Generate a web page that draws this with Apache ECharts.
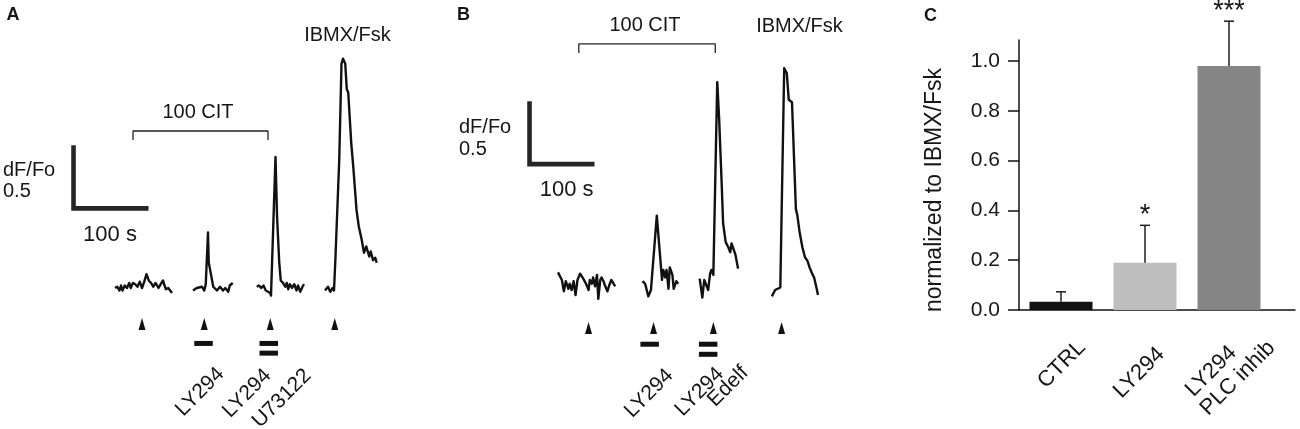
<!DOCTYPE html>
<html>
<head>
<meta charset="utf-8">
<script src="https://cdn.jsdelivr.net/npm/echarts@6/dist/echarts.min.js"></script>
<style>html,body{margin:0;padding:0;background:#fff}#c{width:1300px;height:429px}</style>
</head>
<body>
<div id="c"></div>
<script>
// ===================== DATA =====================
// Panel A traces: [time (s), dF/Fo]
const traceA1 = [[0,0.00],[3,0.01],[6,-0.02],[8,0.02],[10,-0.02],[13,0.02],[16,0.00],[19,0.04],[21,0.00],[24,0.04],[27,0.03],[30,0.01],[33,0.05],[36,0.00],[39,0.05],[42,0.11],[45,0.06],[48,0.04],[51,0.01],[54,0.04],[58,0.00],[60,0.02],[64,0.06],[66,0.02],[68,-0.01],[71,0.00],[76,-0.04]];
const traceA2 = [[104,-0.02],[109,0.00],[116,0.01],[119,-0.02],[121,0.03],[124,0.44],[125,0.20],[127,0.14],[129,0.13],[131,0.01],[133,0.02],[136,-0.02],[140,0.01],[144,-0.02],[147,0.00],[151,-0.03],[153,0.02],[157,0.04]];
const traceA3 = [[189,0.01],[192,0.02],[195,0.00],[198,0.02],[201,-0.02],[203,-0.01],[207,-0.04],[208,-0.06],[214,1.04],[216,0.58],[219,0.20],[221,0.06],[224,0.04],[227,0.01],[229,0.04],[231,-0.01],[233,0.03],[236,0.00],[239,0.03],[242,-0.02],[244,0.02],[247,-0.03],[250,0.01],[252,0.03]];
const traceA4 = [[280,-0.02],[284,0.01],[287,-0.03],[290,0.00],[292,-0.02],[294,0.25],[295,0.26],[299,1.02],[302,1.78],[304,1.82],[307,1.78],[309,1.58],[311,1.55],[315,1.15],[318,0.94],[322,0.62],[325,0.49],[329,0.38],[332,0.28],[335,0.33],[339,0.25],[341,0.29],[344,0.22],[347,0.24],[349,0.20]];
// Panel B traces: [time (s), dF/Fo]
const traceB1 = [[0,0.10],[3,0.11],[6,0.04],[9,-0.05],[12,0.03],[16,-0.03],[18,0.01],[21,-0.04],[24,0.03],[27,-0.08],[30,0.04],[34,0.09],[37,0.08],[40,0.04],[44,0.00],[47,-0.04],[49,0.04],[52,0.01],[54,0.06],[57,-0.01],[60,0.08],[62,-0.11],[65,0.04],[67,0.06],[70,0.03],[72,0.00],[76,-0.05],[79,0.00],[82,0.04],[84,0.03],[88,-0.01]];
const traceB2 = [[130,0.03],[134,0.01],[139,-0.09],[143,-0.04],[146,-0.03],[152,0.55],[155,0.36],[160,0.04],[162,0.12],[165,0.06],[167,0.12],[170,-0.03],[172,0.14],[176,0.08],[178,-0.03],[182,0.03],[185,0.01]];
const traceB3 = [[218,0.05],[222,-0.10],[225,0.04],[228,0.04],[231,-0.04],[234,0.09],[236,0.12],[239,0.08],[245,1.61],[248,1.31],[252,0.78],[254,0.49],[258,0.34],[262,0.30],[265,0.26],[267,0.33],[270,0.32],[273,0.24],[277,0.13]];
const traceB4 = [[329,-0.09],[334,-0.04],[337,-0.03],[342,-0.02],[348,1.72],[352,1.68],[355,1.47],[360,1.45],[366,0.60],[368,0.56],[372,0.41],[376,0.30],[380,0.22],[384,0.19],[387,0.14],[391,0.09],[394,0.06],[398,-0.03],[400,-0.08]];

// stimulus (arrowhead) times, s
const stimA = [36, 119, 207, 293];
const stimB = [47, 147, 239, 344];
// drug application times (s) and number of drugs
const drugA = [118, 205];
const drugB = [141, 231];
const drugCount = [1, 2];
const drugNamesA = ['LY294', 'LY294\nU73122'];
const drugNamesB = ['LY294', 'LY294\nEdelf'];
// 100 CIT application window, s
const citA = [24, 204];
const citB = [32, 242];
const citText = '100 CIT';
const stimText = 'IBMX/Fsk';
// scale bars
const SCALE_TIME = 100;   // s
const SCALE_DFF = 0.5;    // dF/Fo

// Panel C
const categories = ['CTRL', 'LY294', 'LY294\nPLC inhib'];
const means = [0.033, 0.19, 0.98];
const sems = [0.04, 0.15, 0.18];
const sig = ['', '*', '***'];
const yTicks = [0, 0.2, 0.4, 0.6, 0.8, 1.0];
const yName = 'normalized to IBMX/Fsk';

// ===================== LAYOUT / STYLE =====================
const FONT = '"Liberation Sans", Arial, Helvetica, sans-serif';
const INK = '#161616';
const gridA = {left: 40, top: 4.5, width: 375, height: 409.5};
const gridB = {left: 506, top: 1.5, width: 325, height: 409.5};
const gridC = {left: 1019, top: 40, width: 276, height: 270};
const scaleOriginA = [-55.3, 0.632];
const scaleOriginB = [-43.8, 0.959];
const bracketA = {top: 1.246, drop: 0.071};
const bracketB = {top: 1.913, drop: 0.072};
const arrowLevelA = -0.286, arrowLevelB = -0.341;
const drugLevelsA = [-0.44, -0.517], drugLevelsB = [-0.47, -0.55];
const barColors = ['#121212', '#bebebe', '#858585'];

const chart = echarts.init(document.getElementById('c'), null, {renderer: 'canvas'});

function traceSeries(data, ax) {
  return {type: 'line', xAxisIndex: ax, yAxisIndex: ax, data: data, symbol: 'none', silent: true,
    lineStyle: {color: '#111', width: 2.4, join: 'round'}, z: 3};
}
function scaleSeries(o, ax) {
  return {type: 'line', xAxisIndex: ax, yAxisIndex: ax, symbol: 'none', silent: true,
    data: [[o[0], o[1] + SCALE_DFF], [o[0], o[1]], [o[0] + SCALE_TIME, o[1]]],
    lineStyle: {color: '#262626', width: 4.6, cap: 'butt', join: 'miter'}};
}
function bracketSeries(w, b, ax) {
  return {type: 'line', xAxisIndex: ax, yAxisIndex: ax, symbol: 'none', silent: true,
    data: [[w[0], b.top - b.drop], [w[0], b.top], [w[1], b.top], [w[1], b.top - b.drop]],
    lineStyle: {color: '#222', width: 1.3}};
}
function arrowSeries(stim, lvl, ax) {
  return {type: 'scatter', xAxisIndex: ax, yAxisIndex: ax, silent: true,
    data: stim.map(t => [t, lvl]), symbol: 'triangle', symbolSize: [7, 12],
    itemStyle: {color: '#111', opacity: 1}};
}
function drugSeries(times, levels, ax) {
  const d = [];
  times.forEach((t, i) => { for (let k = 0; k < drugCount[i]; k++) d.push([t, levels[k]]); });
  return {type: 'scatter', xAxisIndex: ax, yAxisIndex: ax, silent: true,
    data: d, symbol: 'rect', symbolSize: [18.5, 5], itemStyle: {color: '#111', opacity: 1}};
}

function txt(text, x, y, o) {
  o = o || {};
  return {type: 'text', x: x, y: y, rotation: o.rot || 0, silent: true, z: 50,
    style: {text: text, fill: INK, fontFamily: FONT, fontSize: o.size || 20,
      fontWeight: o.bold ? 'bold' : 'normal', align: o.align || 'center', verticalAlign: 'middle'}};
}

const graphics = [];
// Panel letters
graphics.push(txt('A', 13, 15.5, {bold: true, size: 18}));
graphics.push(txt('B', 463.5, 15.5, {bold: true, size: 18}));
graphics.push(txt('C', 930.5, 16, {bold: true, size: 18}));
// Panel A annotations
graphics.push(txt(stimText, 347.5, 35));
graphics.push(txt(citText, 198, 112));
graphics.push(txt('dF/Fo', 3, 170, {align: 'left'}));
graphics.push(txt(String(SCALE_DFF), 3, 191.7, {align: 'left'}));
graphics.push(txt(SCALE_TIME + ' s', 110, 234.7, {size: 22}));
// Panel B annotations
graphics.push(txt(stimText, 799.5, 26));
graphics.push(txt(citText, 645, 25));
graphics.push(txt('dF/Fo', 459, 127, {align: 'left'}));
graphics.push(txt(String(SCALE_DFF), 459, 149, {align: 'left'}));
graphics.push(txt(SCALE_TIME + ' s', 566.7, 190, {size: 22}));
// rotated drug labels
const rot = Math.PI / 4;
const drugAnchorsA = [[[221, 371]], [[268, 372.5], [308, 372.5]]];
const drugAnchorsB = [[[670, 372.5]], [[720.5, 371], [745, 369.5]]];
function rotLabels(names, anchors, size) {
  names.forEach((n, i) => {
    n.split('\n').forEach((line, k) => {
      const a = anchors[i][k];
      graphics.push(txt(line, a[0], a[1], {rot: rot, align: 'right', size: size}));
    });
  });
}
rotLabels(drugNamesA, drugAnchorsA, 21);
rotLabels(drugNamesB, drugAnchorsB, 21);
const catAnchors = [[[1082, 344]], [[1161, 351]], [[1233, 349.5], [1271.5, 344.5]]];
rotLabels(categories, catAnchors, 22);

const option = {
  animation: false,
  backgroundColor: '#fff',
  grid: [
    Object.assign({containLabel: false}, gridA),
    Object.assign({containLabel: false}, gridB),
    Object.assign({containLabel: false}, gridC)
  ],
  xAxis: [
    {gridIndex: 0, type: 'value', min: -100, max: 400, show: false},
    {gridIndex: 1, type: 'value', min: -80, max: 420, show: false},
    {gridIndex: 2, type: 'value', min: -0.5, max: -0.5 + 276 / 84,
      axisLine: {show: true, onZero: false, lineStyle: {color: '#111', width: 1.5}},
      axisTick: {show: false}, axisLabel: {show: false}, splitLine: {show: false}}
  ],
  yAxis: [
    {gridIndex: 0, type: 'value', min: -1, max: 2.25, show: false},
    {gridIndex: 1, type: 'value', min: -1, max: 2.25, show: false},
    {gridIndex: 2, type: 'value', min: 0, max: 270 / 249, interval: 0.2,
      name: yName, nameLocation: 'middle', nameGap: 73,
      nameTextStyle: {fontFamily: FONT, fontSize: 23, color: INK, padding: [0, 30, 0, 0]},
      axisLine: {show: true, onZero: false, lineStyle: {color: '#111', width: 1.5}},
      axisTick: {show: true, length: 11, lineStyle: {color: '#111', width: 1.5}, customValues: yTicks},
      axisLabel: {fontFamily: FONT, fontSize: 21, color: INK, margin: 19,
        customValues: yTicks, formatter: v => v.toFixed(1)},
      splitLine: {show: false}}
  ],
  series: [
    traceSeries(traceA1, 0), traceSeries(traceA2, 0), traceSeries(traceA3, 0), traceSeries(traceA4, 0),
    traceSeries(traceB1, 1), traceSeries(traceB2, 1), traceSeries(traceB3, 1), traceSeries(traceB4, 1),
    scaleSeries(scaleOriginA, 0), scaleSeries(scaleOriginB, 1),
    bracketSeries(citA, bracketA, 0), bracketSeries(citB, bracketB, 1),
    arrowSeries(stimA, arrowLevelA, 0), arrowSeries(stimB, arrowLevelB, 1),
    drugSeries(drugA, drugLevelsA, 0), drugSeries(drugB, drugLevelsB, 1),
    {type: 'bar', xAxisIndex: 2, yAxisIndex: 2, barWidth: 63, silent: true,
      data: means.map((m, i) => ({value: [i, m], itemStyle: {color: barColors[i]}}))},
    {type: 'custom', xAxisIndex: 2, yAxisIndex: 2, silent: true, clip: false, z: 5,
      data: means.map((m, i) => [i, m, m + sems[i]]),
      renderItem: function (params, api) {
        const i = api.value(0);
        const p0 = api.coord([i, api.value(1)]);
        const p1 = api.coord([i, api.value(2)]);
        const st = {stroke: '#1e1e1e', lineWidth: 1.5};
        const children = [
          {type: 'line', shape: {x1: p0[0], y1: p0[1], x2: p1[0], y2: p1[1]}, style: st},
          {type: 'line', shape: {x1: p1[0] - 5, y1: p1[1], x2: p1[0] + 5, y2: p1[1]}, style: st}
        ];
        const s = sig[params.dataIndex];
        if (s) children.push({type: 'text', x: p1[0], y: p1[1] - 10,
          style: {text: s, fill: INK, fontFamily: FONT, fontSize: 27, align: 'center', verticalAlign: 'middle'}});
        return {type: 'group', children: children};
      }}
  ],
  graphic: graphics
};
chart.setOption(option);
</script>
</body>
</html>
